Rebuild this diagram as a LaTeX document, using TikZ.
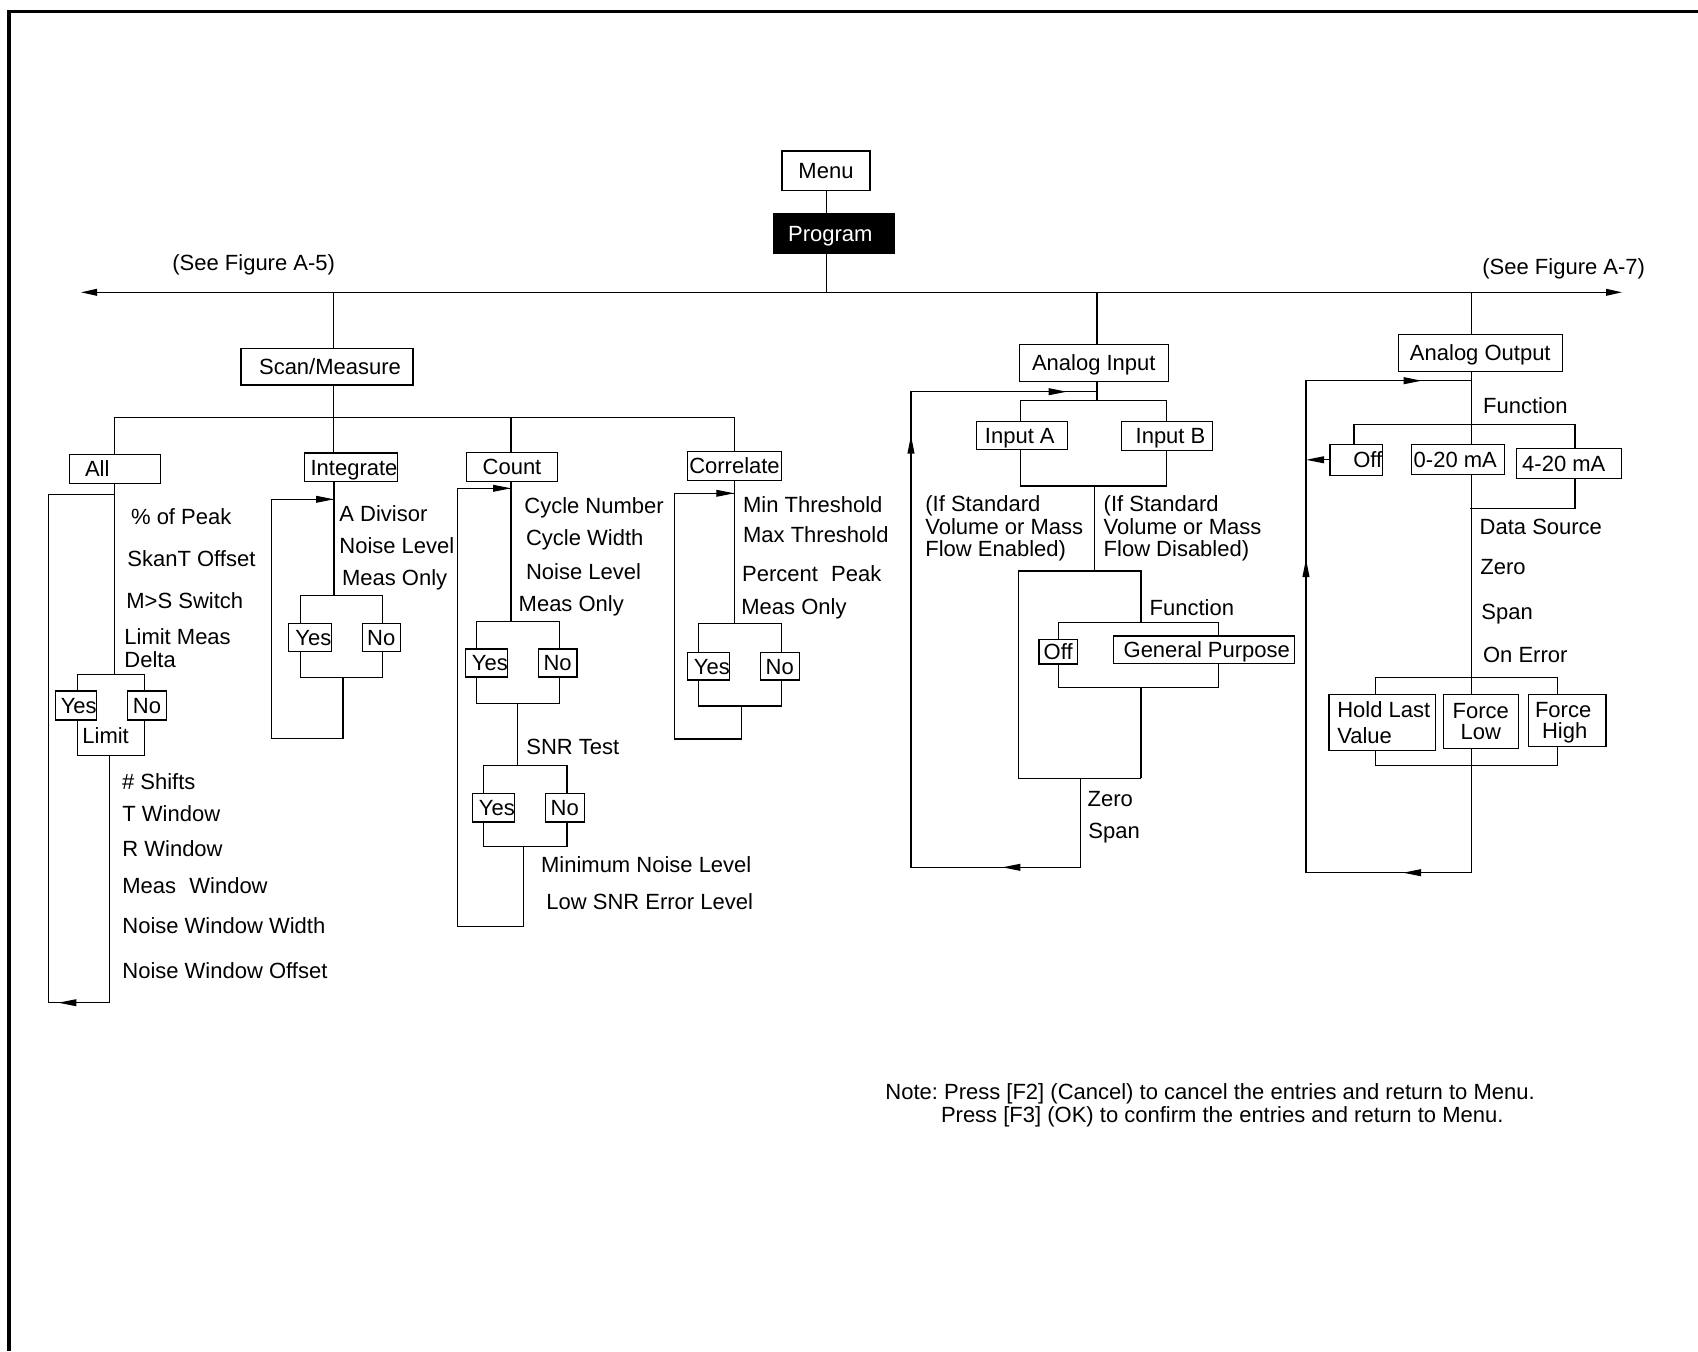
\documentclass[tikz,border=0pt]{standalone}
\usepackage{fontspec}
\setmainfont{Liberation Sans}
\usetikzlibrary{arrows.meta}
\frenchspacing
\tikzset{
 box/.style={draw, inner sep=0pt, text height=7.9pt, text depth=0pt, line width=0.6pt},
 mbox/.style={draw, inner sep=0pt, text depth=0pt, line width=0.6pt},
 lbl/.style={anchor=base west, inner sep=0pt},
 ln/.style={line width=0.6pt},
 arr/.style={line width=0.6pt, -{Triangle[length=9pt,width=3.4pt]}},
}
\newcommand{\bx}[7][]{\node[box,minimum width={(#5-#3)*0.5pt},minimum height={(#6-#4)*0.5pt},#1] (#2) at ({(#3+#5)/2},{(#4+#6)/2}) {#7};}
\newcommand{\mbx}[7][]{\node[mbox,minimum width={(#5-#3)*0.5pt},minimum height={(#6-#4)*0.5pt},#1] (#2) at ({(#3+#5)/2},{(#4+#6)/2}) {#7};}
\newcommand{\tx}[4]{\node[lbl] (#1) at (#2,{#3+8}) {#4};}
\begin{document}
\begin{tikzpicture}[x=0.5pt,y=-0.5pt,font=\fontsize{11pt}{11.6pt}\selectfont]
\useasboundingbox (0,0) rectangle (1698,1351);
% frame
\draw[line width=1.75pt] (9,1351) -- (9,11.7) -- (1698,11.7);
% boxes
\bx{menu}{782}{151}{870}{190.5}{Menu}
\bx[fill=black,text=white]{prog}{773.5}{213.7}{894}{253.7}{\kern-3.5pt Program}
\bx{scan}{241}{348.3}{413}{385}{\kern3pt Scan/Measure}
\bx{all}{69.7}{454.3}{160.3}{483.3}{\kern-17.7pt All}
\bx{integ}{305.3}{453}{396.7}{481.7}{\kern3pt Integrate}
\bx{count}{466.7}{452.7}{557.3}{481.3}{Count}
\bx{corr}{687.3}{451.3}{781.7}{480.3}{Correlate}
\bx{allY}{56.3}{691}{95.7}{720}{\kern2.7pt Yes}
\bx{allN}{127.7}{691}{166.3}{720}{No}
\bx{intY}{290.3}{623.3}{329.3}{651.7}{\kern3.5pt Yes}
\bx{intN}{362.3}{623.3}{400.3}{651.7}{No}
\bx{cntY}{467.3}{649}{506.3}{677}{\kern3pt Yes}
\bx{cntN}{538.3}{649}{577}{677}{No}
\bx{snrY}{474.3}{793.3}{513.3}{822}{\kern3pt Yes}
\bx{snrN}{545.3}{793.3}{584.3}{822}{No}
\bx{corY}{689.3}{652.3}{728.3}{680}{\kern3pt Yes}
\bx{corN}{760.3}{652.3}{799.3}{680}{No}
\bx{ain}{1019.3}{344.3}{1168.3}{381.7}{Analog Input}
\bx{inA}{976.3}{421.7}{1067.3}{449.3}{\kern-2pt Input A}
\bx{inB}{1121.7}{421.7}{1212.3}{450.3}{\kern3.5pt Input B}
\bx{aiOff}{1039}{639.3}{1077.3}{664}{Off}
\bx{gp}{1113.3}{636}{1294.3}{663.3}{\kern3pt General Purpose}
\bx{aout}{1398.3}{334.3}{1562.3}{371.7}{Analog Output}
\bx{aoOff}{1330}{444.3}{1382.3}{475.3}{\kern11.6pt Off}
\bx{maz}{1411.3}{444.3}{1504.3}{474.3}{\kern-2.5pt 0-20 mA}
\bx{maf}{1516.3}{448.3}{1621.3}{478.3}{\kern-5pt 4-20 mA}
\mbx[align=left,font=\fontsize{11pt}{12.8pt}\selectfont]{hlv}{1329}{694.3}{1435.7}{750.3}{\hspace*{1.4pt}Hold Last\\\hspace*{1.4pt}Value}
\mbx[align=center,font=\fontsize{11pt}{10.8pt}\selectfont]{flow}{1443.3}{694.3}{1518.3}{748.3}{Force\\Low}
\mbx[align=center,font=\fontsize{11pt}{10.2pt}\selectfont]{fhigh}{1528.3}{694.3}{1606}{746.3}{\hspace*{-4pt}Force\\\hspace*{-2.5pt}High}
% labels
\tx{seeA5}{172}{262}{(See Figure A-5)}
\tx{seeA7}{1482}{266}{(See Figure A-7)}
\tx{pk}{130.7}{516}{\% of Peak}
\tx{skt}{127}{558}{SkanT Offset}
\tx{msw}{126}{600.7}{M>S Switch}
\tx{lma}{124}{636}{Limit Meas}
\tx{lmb}{124}{659.3}{Delta}
\tx{lim}{82}{735}{Limit}
\tx{shf}{121.7}{781}{\# Shifts}
\tx{tw}{122}{813.3}{T Window}
\tx{rw}{122}{848.3}{R Window}
\tx{mw}{122}{885.7}{Meas\hspace{6.6pt}Window}
\tx{nww}{122}{925}{Noise Window Width}
\tx{nwo}{122}{970.7}{Noise Window Offset}
\tx{adv}{339}{513.3}{A Divisor}
\tx{inl}{339}{545}{Noise Level}
\tx{imo}{341.7}{577.3}{Meas Only}
\tx{cyn}{524}{505}{Cycle Number}
\tx{cyw}{525.7}{537.3}{Cycle Width}
\tx{cnl}{525.7}{571.7}{Noise Level}
\tx{cmo}{518.3}{603.3}{Meas Only}
\tx{snr}{526}{746.7}{SNR Test}
\tx{mnl}{540.7}{864.3}{Minimum Noise Level}
\tx{lse}{546}{901.7}{Low SNR Error Level}
\tx{mint}{742.7}{504}{Min Threshold}
\tx{maxt}{742.7}{534}{Max Threshold}
\tx{ppk}{741.7}{573.3}{Percent\hspace{6.6pt}Peak}
\tx{rmo}{741}{606}{Meas Only}
\tx{ea}{925}{503.3}{(If Standard}
\tx{eb}{925}{526}{Volume or Mass}
\tx{ec}{925}{548.7}{Flow Enabled)}
\tx{da}{1103.3}{503.3}{(If Standard}
\tx{db}{1103.3}{526}{Volume or Mass}
\tx{dc}{1103.3}{548.7}{Flow Disabled)}
\tx{fna}{1149.3}{607.3}{Function}
\tx{za}{1087.3}{798.5}{Zero}
\tx{sa}{1088}{830.5}{Span}
\tx{fnb}{1482.7}{405}{Function}
\tx{ds}{1479.3}{526}{Data Source}
\tx{zb}{1480}{566.7}{Zero}
\tx{sb}{1481}{611}{Span}
\tx{oe}{1482.7}{654.3}{On Error}
\tx{na}{885}{1091.7}{Note: Press [F2] (Cancel) to cancel the entries and return to Menu.}
\tx{nb}{940.6}{1114.3}{Press [F3] (OK) to confirm the entries and return to Menu.}
% main spine
\coordinate (ml) at (81,292.3);
\coordinate (mr) at (1622,292.3);
\draw[ln,{Triangle[length=8pt,width=3.4pt]}-{Triangle[length=8pt,width=3.4pt]}] (ml) -- (mr);
\draw[ln] (826.6,190.5) -- (826.6,213.7);
\draw[ln] (826.6,253.7) -- (826.6,292.3);
% scan/measure
\draw[ln] (333.3,292.3) -- (333.3,348.3);
\draw[ln] (333.3,385) -- (333.3,453);
\draw[ln] (114.3,417.3) -- (734.3,417.3);
\draw[ln] (114.3,417.3) -- (114.3,454.3);
\draw[ln] (511,417.3) -- (511,452.7);
\draw[ln] (734.3,417.3) -- (734.3,451.3);
% all
\draw[ln] (114.3,483.3) -- (114.3,674.3);
\draw[ln] (114.3,494.3) -- (48.7,494.3) -- (48.7,1002.7) -- (109.3,1002.7) -- (109.3,755.7);
\draw[arr] (76.3,1002.7) -- (58.3,1002.7);
\draw[ln] (77.5,691) -- (77.5,674.3) -- (144.5,674.3) -- (144.5,691);
\draw[ln] (77.5,720) -- (77.5,755.7) -- (144.5,755.7) -- (144.5,720);
% integrate
\draw[ln] (334,481.7) -- (334,595.7);
\draw[ln] (334,499.3) -- (271.7,499.3) -- (271.7,738.3) -- (343,738.3) -- (343,677.3);
\draw[arr] (316,499.3) -- (334,499.3);
\draw[ln] (300.3,623.3) -- (300.3,595.7) -- (382.5,595.7) -- (382.5,623.3);
\draw[ln] (300.3,651.7) -- (300.3,677.3) -- (382.5,677.3) -- (382.5,651.7);
% count
\draw[ln] (511,481.3) -- (511,621.7);
\draw[ln] (511,488.3) -- (457.3,488.3) -- (457.3,926.7) -- (523.3,926.7) -- (523.3,846.7);
\draw[arr] (493,488.3) -- (511,488.3);
\draw[ln] (476.3,649) -- (476.3,621.7) -- (559.3,621.7) -- (559.3,649);
\draw[ln] (476.3,677) -- (476.3,703.3) -- (559.3,703.3) -- (559.3,677);
\draw[ln] (517.7,703.3) -- (517.7,765.7);
\draw[ln] (483.7,793.3) -- (483.7,765.7) -- (567,765.7) -- (567,793.3);
\draw[ln] (483.7,822) -- (483.7,846.7) -- (567,846.7) -- (567,822);
% correlate
\draw[ln] (734.3,480.3) -- (734.3,623.3);
\draw[ln] (734.3,493.3) -- (674.7,493.3) -- (674.7,739) -- (741.3,739) -- (741.3,706);
\draw[arr] (716.3,493.3) -- (734.3,493.3);
\draw[ln] (698.3,652.3) -- (698.3,623.3) -- (781.7,623.3) -- (781.7,652.3);
\draw[ln] (698.3,680) -- (698.3,706) -- (781.7,706) -- (781.7,680);
% analog input
\draw[ln] (1097,292.3) -- (1097,344.3);
\draw[ln] (1097,381.7) -- (1097,400.7);
\draw[ln] (1097,391.7) -- (911,391.7) -- (911,867.3) -- (1080.7,867.3) -- (1080.7,778.3);
\draw[arr] (1048.7,391.7) -- (1066.7,391.7);
\draw[arr] (911,453) -- (911,435.5);
\draw[arr] (1020,867.3) -- (1002.4,867.3);
\draw[ln] (1020.3,421.7) -- (1020.3,400.7) -- (1166.3,400.7) -- (1166.3,421.7);
\draw[ln] (1020.3,449.3) -- (1020.3,486) -- (1166.3,486) -- (1166.3,450.3);
\draw[ln] (1094.3,486) -- (1094.3,571);
\draw[ln] (1018.3,778.3) -- (1018.3,571) -- (1141,571) -- (1141,622.7);
\draw[ln] (1058.3,639.3) -- (1058.3,622.7) -- (1218.3,622.7) -- (1218.3,636);
\draw[ln] (1058.3,664) -- (1058.3,687.3) -- (1218.3,687.3) -- (1218.3,663.3);
\draw[ln] (1141,687.3) -- (1141,778.3);
\draw[ln] (1018.3,778.3) -- (1141,778.3);
% analog output
\draw[ln] (1471.7,292.3) -- (1471.7,334.3);
\draw[ln] (1471.7,371.7) -- (1471.7,444.3);
\draw[ln] (1471.7,474.3) -- (1471.7,694.3);
\draw[ln] (1471.7,748.3) -- (1471.7,872.7);
\draw[ln] (1471.7,380.7) -- (1306,380.7) -- (1306,872.7) -- (1471.7,872.7);
\draw[arr] (1403.7,380.7) -- (1421.7,380.7);
\draw[arr] (1306,576) -- (1306,559);
\draw[arr] (1420.5,872.7) -- (1403,872.7);
\draw[arr] (aoOff.west) -- (1306,459.8);
\draw[ln] (1354,444.3) -- (1354,424.3) -- (1575,424.3) -- (1575,448.3);
\draw[ln] (1575,478.3) -- (1575,508.3) -- (1470,508.3);
\draw[ln] (1375.7,694.3) -- (1375.7,677.3) -- (1557.7,677.3) -- (1557.7,694.3);
\draw[ln] (1375.7,750.3) -- (1375.7,765.3) -- (1557.7,765.3) -- (1557.7,746.3);
\end{tikzpicture}
\end{document}
